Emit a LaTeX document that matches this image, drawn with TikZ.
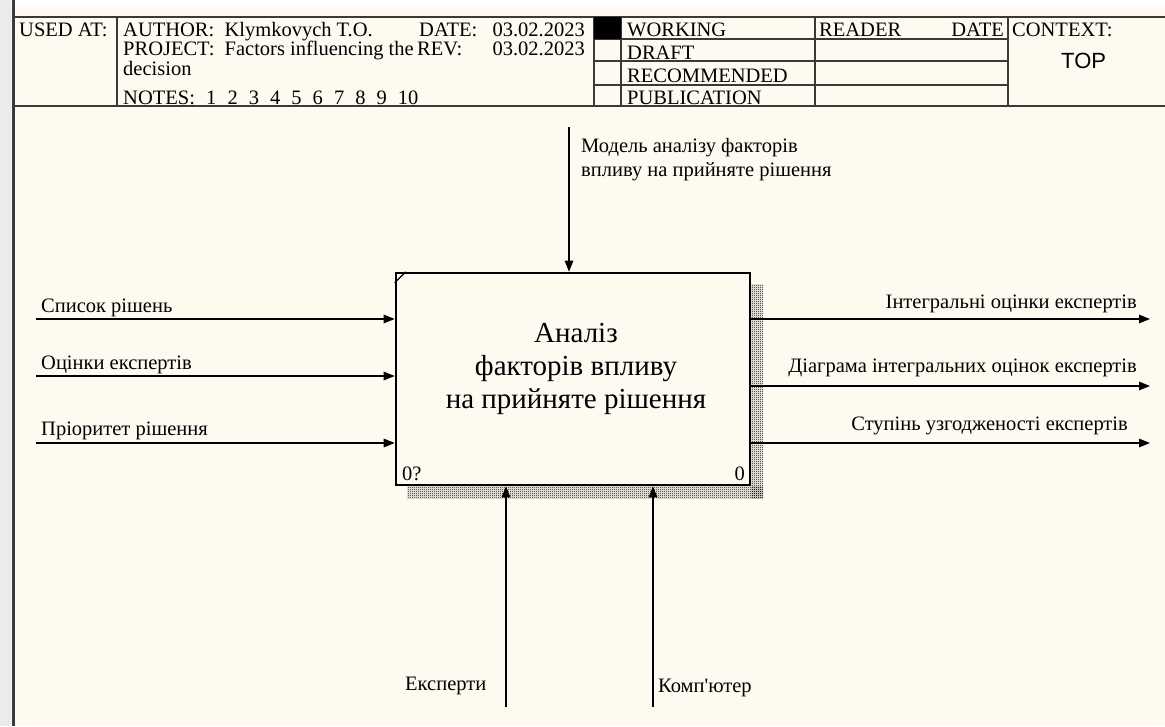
\documentclass[tikz,border=0pt]{standalone}
\usepackage{fontspec}
\setmainfont{Liberation Serif}[Ligatures=TeXOff]
\newfontfamily\arialf{Liberation Sans}
\usetikzlibrary{arrows.meta,patterns.meta}
\definecolor{cream}{HTML}{FFFAF0}
\definecolor{hdrline}{HTML}{3A3A3A}
\tikzdeclarepattern{
  name=finecheck,
  type=uncolored,
  bounding box={(0pt,0pt) and (2pt,2pt)},
  tile size={(2pt,2pt)},
  code={
    \pgfpathrectangle{\pgfpoint{0pt}{0pt}}{\pgfpoint{1pt}{1pt}}
    \pgfpathrectangle{\pgfpoint{1pt}{1pt}}{\pgfpoint{1pt}{1pt}}
    \pgfusepath{fill}
  }
}
\tikzset{
  txt/.style={inner sep=0pt, font=\fontsize{20.5}{24}\selectfont},
  hline/.style={draw=hdrline, line width=1.6pt},
  arr/.style={draw=black, line width=1.4pt, -{Triangle[length=11pt,width=8.5pt]}},
  fbox/.style={draw=black, line width=2.6pt, fill=cream, minimum width=354pt, minimum height=212pt, inner sep=0pt},
  shadowfill/.style={pattern={finecheck}, pattern color=black}
}
\begin{document}
\begin{tikzpicture}[x=1pt,y=-1pt]
\useasboundingbox (0,0) rectangle (1165,726);
% background
\fill[cream] (0,0) rectangle (1165,726);
\fill[white] (0,0) rectangle (1165,7);
\fill[black!8] (0,0) rectangle (11,726);
\draw[hdrline, line width=2.4pt] (13.5,0) -- (13.5,726);

% header frame
\draw[hline] (14,17) -- (1165,17);
\draw[hline] (14,106) -- (1165,106);
\draw[hline] (117,17) -- (117,106);
\draw[hline] (594,17) -- (594,106);
\draw[hline] (621,17) -- (621,106);
\draw[hline] (815,17) -- (815,106);
\draw[hline] (1008,17) -- (1008,106);
\draw[hline] (594,39) -- (1008,39);
\draw[hline] (594,61) -- (1008,61);
\draw[hline] (594,85) -- (1008,85);
\fill[black] (594,17) rectangle (621,39);

% header texts
\node[txt, anchor=base west] (usedat) at (19,36) {USED AT:};
\node[txt, anchor=base west] (author) at (123,36) {AUTHOR:\ \ Klymkovych T.O.};
\node[txt, anchor=base west] (project) at (123,55) {PROJECT:\ \ Factors influencing the};
\node[txt, anchor=base west] (decision) at (123,75) {decision};
\node[txt, anchor=base west] (notes) at (123,104) {NOTES:};
\foreach \n [count=\i] in {1,2,3,4,5,6,7,8,9,10} {
  \node[txt, anchor=base west] (note\i) at ({206+21.3*(\i-1)},104) {\n};
}
\node[txt, anchor=base west] (datel) at (419,36) {DATE:};
\node[txt, anchor=base east] (datev) at (585,36) {03.02.2023};
\node[txt, anchor=base west] (revl) at (417,55) {REV:};
\node[txt, anchor=base east] (revv) at (585,55) {03.02.2023};
\node[txt, anchor=base west] (working) at (627,36) {WORKING};
\node[txt, anchor=base west] (draft) at (627,59.5) {DRAFT};
\node[txt, anchor=base west] (recom) at (627,82.5) {RECOMMENDED};
\node[txt, anchor=base west] (public) at (627,104.5) {PUBLICATION};
\node[txt, anchor=base west] (reader) at (819,36) {READER};
\node[txt, anchor=base east] (rdate) at (1004,36) {DATE};
\node[txt, anchor=base west] (context) at (1012,36) {CONTEXT:};
\node[inner sep=0pt, anchor=base west, font=\arialf\fontsize{22}{26}\selectfont] (top) at (1061,68) {TOP};

% shadow
\fill[shadowfill] (751,284) rectangle (763,498);
\fill[shadowfill] (407,486) rectangle (763,498);

% function box
\node[fbox] (fn) at (573,379) {};
\draw[black, line width=1.2pt] ([yshift=-11pt]fn.north west) -- ([xshift=11pt]fn.north west);
\node[inner sep=0pt, align=center, font=\fontsize{29}{33}\selectfont] (fntitle) at (576,369) {Аналіз\\факторів впливу\\на прийняте рішення};
\node[txt, anchor=base west] (fnnum) at (402,480) {0?};
\node[txt, anchor=base east] (fnnode) at (745,480) {0};

% inputs
\coordinate (i1) at (36,319);
\coordinate (i2) at (36,376);
\coordinate (i3) at (36,443);
\draw[arr] (i1) -- (i1 -| fn.west);
\draw[arr] (i2) -- (i2 -| fn.west);
\draw[arr] (i3) -- (i3 -| fn.west);
\node[txt, anchor=base west] (li1) at (41,312) {Список рішень};
\node[txt, anchor=base west] (li2) at (41,369) {Оцінки експертів};
\node[txt, anchor=base west] (li3) at (41,435) {Пріоритет рішення};

% outputs
\coordinate (o1) at (1150,319);
\coordinate (o2) at (1150,386);
\coordinate (o3) at (1150,443);
\draw[arr] (o1 -| fn.east) -- (o1);
\draw[arr] (o2 -| fn.east) -- (o2);
\draw[arr] (o3 -| fn.east) -- (o3);
\node[txt, anchor=base east] (lo1) at (1137,308) {Інтегральні оцінки експертів};
\node[txt, anchor=base east] (lo2) at (1137,372) {Діаграма інтегральних оцінок експертів};
\node[txt, anchor=base east] (lo3) at (1128,430) {Ступінь узгодженості експертів};

% control
\coordinate (c1) at (569,127);
\draw[arr] (c1) -- (c1 |- fn.north);
\node[txt, anchor=base west] (lc1a) at (581,152) {Модель аналізу факторів};
\node[txt, anchor=base west] (lc1b) at (581,176) {впливу на прийняте рішення};

% mechanisms
\coordinate (m1) at (506,707);
\coordinate (m2) at (653,707);
\draw[arr] (m1) -- (m1 |- fn.south);
\draw[arr] (m2) -- (m2 |- fn.south);
\node[txt, anchor=base west] (lm1) at (405,690) {Експерти};
\node[txt, anchor=base west] (lm2) at (658,692) {Комп'ютер};
\end{tikzpicture}
\end{document}
